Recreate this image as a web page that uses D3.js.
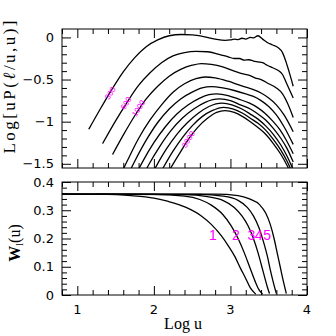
<!DOCTYPE html>
<meta charset="utf-8">
<style>
body{margin:0;background:#fff;}
svg text{font-family:"DejaVu Sans",sans-serif;}
.curve{fill:none;stroke:#000;stroke-width:1.3px;}
</style>
<svg id="chart" width="336" height="336"></svg>
<script src="https://d3js.org/d3.v7.min.js"></script>
<script>
// x = Log u for both panels
const xDomain = [0.8, 4]
const powerDomain = [-1.55, 0.1]
const windowDomain = [0, 0.4]

// top panel: Log[uP(l/u,u)] vs Log u, one curve per multipole l
const powerCurves = [
  [[1.15,-1.09],[1.3,-0.85],[1.45,-0.62],[1.6,-0.41],[1.75,-0.24],[1.9,-0.11],[2.05,-0.03],[2.2,0.02],[2.36,0.035],[2.5,0.03],[2.65,0.01],[2.8,-0.02],[2.93,-0.035],[3.0,-0.03],[3.05,-0.02],[3.1,-0.025],[3.15,-0.01],[3.2,-0.02],[3.26,0.0],[3.3,-0.005],[3.36,0.02],[3.42,-0.02],[3.48,-0.06],[3.55,-0.09],[3.62,-0.12],[3.68,-0.18],[3.74,-0.33],[3.78,-0.45],[3.82,-0.58]],
  [[1.33,-1.26],[1.5,-0.99],[1.65,-0.77],[1.8,-0.57],[1.95,-0.42],[2.1,-0.3],[2.25,-0.22],[2.4,-0.18],[2.55,-0.165],[2.7,-0.17],[2.85,-0.2],[2.97,-0.23],[3.05,-0.25],[3.12,-0.25],[3.18,-0.27],[3.24,-0.265],[3.3,-0.28],[3.36,-0.29],[3.42,-0.3],[3.48,-0.33],[3.55,-0.36],[3.62,-0.39],[3.68,-0.44],[3.74,-0.56],[3.82,-0.72]],
  [[1.46,-1.39],[1.6,-1.16],[1.75,-0.93],[1.9,-0.73],[2.05,-0.58],[2.2,-0.46],[2.35,-0.38],[2.5,-0.33],[2.62,-0.31],[2.75,-0.32],[2.9,-0.35],[3.05,-0.4],[3.15,-0.43],[3.25,-0.45],[3.32,-0.48],[3.4,-0.5],[3.5,-0.55],[3.6,-0.6],[3.68,-0.67],[3.75,-0.79],[3.82,-0.95]],
  [[1.5,-1.75],[1.65,-1.47],[1.8,-1.2],[1.95,-0.98],[2.1,-0.8],[2.25,-0.65],[2.4,-0.55],[2.55,-0.49],[2.67,-0.47],[2.8,-0.48],[2.97,-0.52],[3.1,-0.56],[3.2,-0.59],[3.3,-0.62],[3.4,-0.66],[3.5,-0.72],[3.6,-0.8],[3.7,-0.92],[3.82,-1.12]],
  [[1.6,-1.75],[1.75,-1.47],[1.9,-1.22],[2.05,-1.01],[2.2,-0.85],[2.35,-0.73],[2.5,-0.65],[2.63,-0.6],[2.75,-0.585],[2.9,-0.6],[3.05,-0.63],[3.2,-0.67],[3.3,-0.7],[3.4,-0.75],[3.5,-0.82],[3.6,-0.92],[3.7,-1.06],[3.82,-1.27]],
  [[1.7,-1.75],[1.85,-1.48],[2.0,-1.25],[2.15,-1.06],[2.3,-0.91],[2.45,-0.8],[2.6,-0.72],[2.72,-0.68],[2.82,-0.67],[2.97,-0.69],[3.1,-0.73],[3.25,-0.78],[3.35,-0.83],[3.45,-0.9],[3.55,-0.99],[3.65,-1.1],[3.73,-1.22],[3.82,-1.38]],
  [[1.8,-1.75],[1.94,-1.5],[2.08,-1.29],[2.22,-1.11],[2.37,-0.96],[2.52,-0.85],[2.67,-0.77],[2.86,-0.73],[3.0,-0.75],[3.13,-0.8],[3.26,-0.85],[3.36,-0.91],[3.46,-0.98],[3.56,-1.08],[3.66,-1.2],[3.74,-1.32],[3.82,-1.48]],
  [[1.9,-1.75],[2.03,-1.53],[2.16,-1.33],[2.3,-1.15],[2.44,-1.01],[2.58,-0.9],[2.72,-0.82],[2.89,-0.78],[3.02,-0.8],[3.15,-0.85],[3.26,-0.91],[3.36,-0.97],[3.46,-1.05],[3.56,-1.15],[3.66,-1.28],[3.74,-1.41],[3.82,-1.57]],
  [[2.0,-1.75],[2.12,-1.55],[2.25,-1.35],[2.38,-1.18],[2.5,-1.05],[2.63,-0.94],[2.76,-0.87],[2.91,-0.83],[3.04,-0.85],[3.16,-0.9],[3.26,-0.96],[3.36,-1.02],[3.46,-1.1],[3.56,-1.21],[3.66,-1.34],[3.74,-1.47],[3.82,-1.63]],
  [[2.1,-1.75],[2.22,-1.55],[2.34,-1.37],[2.45,-1.21],[2.57,-1.07],[2.7,-0.96],[2.82,-0.89],[2.93,-0.87],[3.05,-0.89],[3.16,-0.94],[3.26,-1.0],[3.36,-1.07],[3.46,-1.15],[3.56,-1.26],[3.66,-1.39],[3.74,-1.52],[3.82,-1.68]]
]
const ellLabels = ["300", "600", "1000", "3000"]
const ellLabelAt = [[1.43,-0.66],[1.635,-0.78],[1.8,-0.84],[2.45,-1.21]]

// bottom panel: window functions W_l(u)
const windowCurves = [
  [[1.25,0.357],[1.7,0.352],[2.0,0.343],[2.19,0.331],[2.42,0.31],[2.62,0.28],[2.75,0.25],[2.88,0.21],[2.97,0.175],[3.06,0.135],[3.13,0.095],[3.19,0.064],[3.26,0.025],[3.33,0.003]],
  [[0.8,0.357],[2.0,0.356],[2.4,0.35],[2.6,0.338],[2.75,0.318],[2.9,0.285],[3.01,0.245],[3.1,0.2],[3.18,0.15],[3.25,0.1],[3.32,0.05],[3.37,0.02],[3.42,0.003]],
  [[0.8,0.357],[2.4,0.355],[2.7,0.348],[2.9,0.335],[3.05,0.31],[3.15,0.28],[3.23,0.245],[3.3,0.2],[3.36,0.15],[3.41,0.1],[3.45,0.06],[3.48,0.03],[3.51,0.005]],
  [[0.8,0.357],[2.6,0.356],[2.9,0.35],[3.1,0.335],[3.22,0.31],[3.3,0.28],[3.37,0.24],[3.43,0.19],[3.48,0.14],[3.52,0.09],[3.56,0.045],[3.6,0.005]],
  [[0.8,0.357],[2.8,0.357],[3.1,0.352],[3.25,0.34],[3.38,0.32],[3.46,0.29],[3.52,0.25],[3.57,0.2],[3.61,0.15],[3.65,0.1],[3.69,0.05],[3.73,0.005]]
]
const windowLabels = ["1", "2", "3", "4", "5"]
const windowLabelAt = [[2.77,0.195],[3.07,0.195],[3.275,0.195],[3.37,0.195],[3.48,0.195]]

const xMajor = [1, 2, 3, 4]
const xMinor = d3.range(4, 21).filter(i => i % 5).map(i => i / 5)
const powerMajor = [-1.5, -1, -0.5, 0]
const powerMinor = d3.range(-15, 1).filter(i => i % 5).map(i => i / 10)
const windowMajor = [0, 0.1, 0.2, 0.3, 0.4]
const windowMinor = d3.range(0, 21).filter(i => i % 5).map(i => i / 50)

const svg = d3.select('#chart')
const left = 62, right = 307
const topPanel = {y0: 29, y1: 168}
const botPanel = {y0: 182, y1: 295}

const x = d3.scaleLinear().domain(xDomain).range([left, right])
const yP = d3.scaleLinear().domain(powerDomain).range([topPanel.y1, topPanel.y0])
const yW = d3.scaleLinear().domain(windowDomain).range([botPanel.y1, botPanel.y0])

function frame(panel, y, major, minor, fmt, name) {
  const g = svg.append('g')
  const noLabel = () => ''
  const add = (axis, tr) => {
    const a = g.append('g').attr('transform', tr).call(axis.tickSizeOuter(0))
    a.select('.domain').remove()
    a.selectAll('line').attr('stroke', '#000')
    return a
  }
  // x ticks, bottom and top, inward
  add(d3.axisBottom(x).tickValues(xMajor).tickSize(-9).tickFormat(noLabel), `translate(0,${panel.y1})`)
  add(d3.axisBottom(x).tickValues(xMinor).tickSize(-5).tickFormat(noLabel), `translate(0,${panel.y1})`)
  add(d3.axisTop(x).tickValues(xMajor).tickSize(-9).tickFormat(noLabel), `translate(0,${panel.y0})`)
  add(d3.axisTop(x).tickValues(xMinor).tickSize(-5).tickFormat(noLabel), `translate(0,${panel.y0})`)
  // y ticks, left with labels, right without
  const ly = add(d3.axisLeft(y).tickValues(major).tickSize(-9).tickPadding(8).tickFormat(fmt), `translate(${left},0)`)
  ly.selectAll('text').attr('font-size', 13).attr('font-family', '"DejaVu Sans",sans-serif').attr('fill', '#000')
  add(d3.axisLeft(y).tickValues(minor).tickSize(-5).tickFormat(noLabel), `translate(${left},0)`)
  add(d3.axisRight(y).tickValues(major).tickSize(-9).tickFormat(noLabel), `translate(${right},0)`)
  add(d3.axisRight(y).tickValues(minor).tickSize(-5).tickFormat(noLabel), `translate(${right},0)`)

  svg.append('clipPath').attr('id', name)
    .append('rect').attr('x', left).attr('y', panel.y0)
    .attr('width', right - left).attr('height', panel.y1 - panel.y0)

  svg.append('rect').attr('x', left).attr('y', panel.y0)
    .attr('width', right - left).attr('height', panel.y1 - panel.y0)
    .attr('fill', 'none').attr('stroke', '#000').attr('stroke-width', 1)
}

frame(topPanel, yP, powerMajor, powerMinor, d3.format('~g'), 'clipTop')
frame(botPanel, yW, windowMajor, windowMinor, d => d === 0 ? '0' : d3.format('.1f')(d), 'clipBot')

// x tick labels under the bottom panel
svg.append('g').selectAll('text').data(xMajor).join('text')
  .attr('x', d => x(d)).attr('y', botPanel.y1 + 19)
  .attr('text-anchor', 'middle').attr('font-size', 13)
  .text(d => d)

const linePower = d3.line().x(d => x(d[0])).y(d => yP(d[1])).curve(d3.curveMonotoneX)
const lineWindow = d3.line().x(d => x(d[0])).y(d => yW(d[1])).curve(d3.curveMonotoneX)

svg.append('g').attr('clip-path', 'url(#clipTop)')
  .selectAll('path').data(powerCurves).join('path')
  .attr('class', 'curve').attr('d', linePower)

svg.append('g').attr('clip-path', 'url(#clipBot)')
  .selectAll('path').data(windowCurves).join('path')
  .attr('class', 'curve').attr('d', lineWindow)

// magenta labels
svg.append('g').selectAll('text').data(ellLabels).join('text')
  .attr('transform', (d, i) => `translate(${x(ellLabelAt[i][0])},${yP(ellLabelAt[i][1])}) rotate(-58)`)
  .attr('text-anchor', 'middle').attr('dy', '0.35em')
  .attr('font-size', 8).attr('fill', '#f0f')
  .style('font-family', '"Liberation Sans",sans-serif')
  .text(d => d)

svg.append('g').selectAll('text').data(windowLabels).join('text')
  .attr('x', (d, i) => x(windowLabelAt[i][0])).attr('y', (d, i) => yW(windowLabelAt[i][1]))
  .attr('text-anchor', 'middle').attr('font-size', 14).attr('fill', '#f0f')
  .style('font-family', '"Liberation Sans",sans-serif')
  .text(d => d)

// axis titles
const serif = '"Liberation Serif","Times New Roman",serif'
const t1 = svg.append('text').attr('transform', 'translate(15,87) rotate(-90)')
  .attr('text-anchor', 'middle').attr('font-size', 17).style('font-family', serif)
  .attr('textLength', 133).attr('lengthAdjust', 'spacing')
t1.append('tspan').text('Log[uP(')
t1.append('tspan').attr('font-style', 'italic').text('ℓ')
t1.append('tspan').text('/u,u)]')

const t2 = svg.append('text').attr('transform', 'translate(20,243) rotate(-90)')
  .attr('text-anchor', 'middle').attr('font-size', 16).attr('font-weight', 'bold').style('font-family', serif)
t2.append('tspan').text('W')
t2.append('tspan').attr('font-size', 10).attr('font-weight', 'normal').attr('dy', 3).text('l')
t2.append('tspan').attr('dy', -3).attr('font-weight', 'normal').text('(u)')

svg.append('text').attr('x', 183).attr('y', 329)
  .attr('text-anchor', 'middle').attr('font-size', 16).style('font-family', serif)
  .text('Log u')
</script>
